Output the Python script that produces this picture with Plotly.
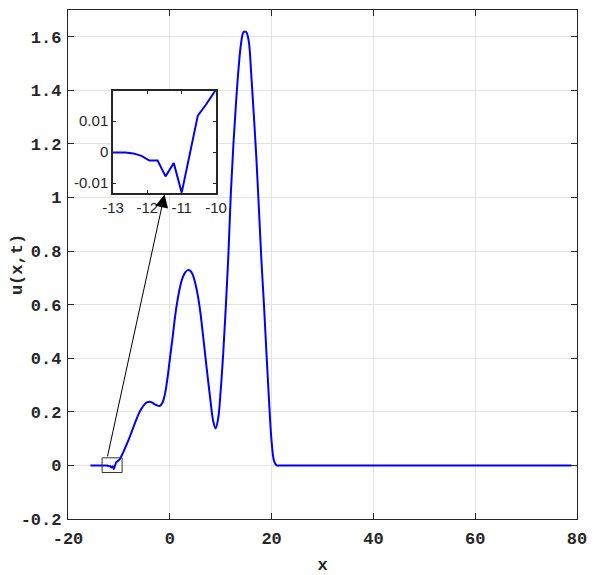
import plotly.graph_objects as go

# solution u(x,t)
x = [-15.6, -15.0, -14.0, -13.34, -13.11, -12.87, -12.64, -12.41, -12.17, -11.94,
     -11.70, -11.47, -11.23, -11.00, -10.77, -10.53, -10.30, -10.06, -9.83,
     -9.5, -9.0, -8.5, -8.0, -7.5, -7.0, -6.5, -6.0, -5.5, -5.0, -4.5, -4.0,
     -3.5, -3.0, -2.5, -2.0, -1.5, -1.0, -0.5, 0.0, 0.5, 1.0, 1.5, 2.0, 2.5,
     3.0, 3.5, 4.0, 4.5, 5.0, 5.5, 6.0, 6.5, 7.0, 7.5, 8.0, 8.5, 9.0, 9.5,
     10.0, 10.5, 11.0, 11.5, 12.0, 12.5, 13.0, 13.5, 14.0, 14.5, 15.0, 15.5,
     16.0, 16.5, 17.0, 17.5, 18.0, 18.5, 19.0, 19.5, 20.0, 20.5, 21.0, 22.0,
     30.0, 40.0, 50.0, 60.0, 70.0, 78.9]
u = [0, 0, 0, 0, 0, 0, -0.0001, -0.0004, -0.0012, -0.0027,
     -0.0027, -0.0078, -0.0035, -0.0131, -0.0006, 0.0118, 0.0152, 0.0188, 0.0230,
     0.035, 0.055, 0.078, 0.100, 0.125, 0.150, 0.175, 0.197, 0.214, 0.227, 0.235, 0.238,
     0.235, 0.229, 0.224, 0.222, 0.232, 0.262, 0.320, 0.395, 0.470, 0.550, 0.615, 0.665, 0.700,
     0.720, 0.729, 0.727, 0.712, 0.680, 0.635, 0.572, 0.490, 0.405, 0.320, 0.240, 0.168, 0.138, 0.175,
     0.280, 0.420, 0.590, 0.780, 1.020, 1.200, 1.350, 1.480, 1.575, 1.618, 1.618, 1.585,
     1.460, 1.310, 1.150, 0.960, 0.765, 0.600, 0.415, 0.240, 0.090, 0.015, 0, 0,
     0, 0, 0, 0, 0, 0]

x_ticks = [-20, 0, 20, 40, 60, 80]
x_labels = ["-20", "0", "20", "40", "60", "80"]
y_ticks = [-0.2, 0, 0.2, 0.4, 0.6, 0.8, 1, 1.2, 1.4, 1.6]
y_labels = ["-0.2", "0", "0.2", "0.4", "0.6", "0.8", "1", "1.2", "1.4", "1.6"]

# zoomed window
inset_x_range = [-13, -10]
inset_y_range = [-0.0131, 0.0197]
inset_x_ticks = [-13, -12, -11, -10]
inset_x_labels = ["-13", "-12", "-11", "-10"]
inset_y_ticks = [-0.01, 0, 0.01]
inset_y_labels = ["-0.01", "0", "0.01"]

mono = dict(family="Liberation Mono", size=17, color="#262626", weight="bold")
sans = dict(family="Liberation Sans", size=15, color="#262626")
axcol = "#262626"

fig = go.Figure()
fig.add_trace(go.Scatter(x=x, y=u, mode="lines", line=dict(color="#0000ff", width=2, shape="spline"),
                         xaxis="x", yaxis="y", hoverinfo="skip"))
fig.add_trace(go.Scatter(x=x, y=u, mode="lines", line=dict(color="#0000ff", width=2),
                         xaxis="x2", yaxis="y2", hoverinfo="skip"))

# box round the zoomed part and arrow to the inset
fig.add_shape(type="rect", xref="x", yref="y", x0=-13.3, x1=-9.37, y0=-0.0265, y1=0.0283,
              line=dict(color="#333333", width=1))
fig.add_annotation(xref="x", yref="y", axref="x", ayref="y", x=-1.04, y=1.0115, ax=-12.3, ay=0.0283,
                   text="", showarrow=True, arrowhead=2, arrowsize=2.6, arrowwidth=1, arrowcolor="black")

# the page body has an 8px margin, so the figure is 8px smaller each way
fig.update_layout(
    width=590, height=567,
    margin=dict(l=60, r=21, t=2, b=56, autoexpand=False),
    paper_bgcolor="white", plot_bgcolor="white",
    showlegend=False,
    xaxis=dict(range=[-20, 80], tickvals=x_ticks, ticktext=x_labels, ticks="inside", ticklen=6,
               tickcolor=axcol, mirror="allticks", showline=True, linecolor=axcol, linewidth=1.3,
               showgrid=True, gridcolor="#e3e3e3", zeroline=False, tickfont=mono, automargin=False,
               ticklabelstandoff=3, title=dict(text="x", font=mono, standoff=12)),
    yaxis=dict(range=[-0.2, 1.7], tickvals=y_ticks, ticktext=y_labels, ticks="inside", ticklen=6,
               tickcolor=axcol, mirror="allticks", showline=True, linecolor=axcol, linewidth=1.3,
               showgrid=True, gridcolor="#e3e3e3", zeroline=False, tickfont=mono, automargin=False,
               ticklabelstandoff=2, title=dict(text="u(x,t)", font=mono, standoff=12)),
    xaxis2=dict(domain=[0.0884, 0.2908], anchor="y2", range=inset_x_range, tickvals=inset_x_ticks,
                ticktext=inset_x_labels, ticks="inside", ticklen=3, tickcolor=axcol, mirror="allticks",
                showline=True, linecolor=axcol, linewidth=1.5, showgrid=False, zeroline=False,
                tickfont=sans, automargin=False),
    yaxis2=dict(domain=[0.6408, 0.8408], anchor="x2", range=inset_y_range, tickvals=inset_y_ticks,
                ticktext=inset_y_labels, ticks="inside", ticklen=3, tickcolor=axcol, mirror="allticks",
                showline=True, linecolor=axcol, linewidth=1.5, showgrid=False, zeroline=False,
                tickfont=sans, automargin=False),
)

fig.write_html("out.html")
